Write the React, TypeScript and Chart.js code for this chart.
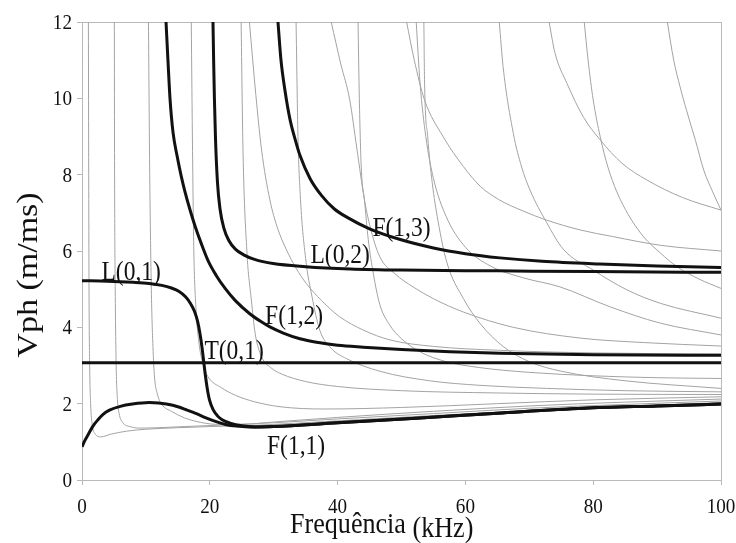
import { useEffect, useRef } from "react";
import { Chart, registerables } from "chart.js";

Chart.register(...registerables);

type Pt = [number, number];

// Axis ticks
const xTicks = [0, 20, 40, 60, 80, 100];
const yTicks = [0, 2, 4, 6, 8, 10, 12];

// Main guided-wave modes (frequency kHz, phase velocity m/ms)
const modeT01: Pt[] = [[0, 3.07], [100, 3.07]];

const modeL01: Pt[] = [
  [0, 5.22], [4, 5.21], [8, 5.18], [10.5, 5.15], [12.5, 5.1], [14, 5.03], [15.2, 4.94],
  [16.2, 4.8], [17, 4.62], [17.6, 4.42], [18.1, 4.15], [18.5, 3.8], [18.8, 3.45],
  [19.05, 3.1], [19.3, 2.75], [19.6, 2.4], [19.95, 2.1], [20.5, 1.85], [21.2, 1.68],
  [22, 1.57], [23.3, 1.48], [25, 1.42], [27, 1.39], [30, 1.4], [40, 1.5], [52.3, 1.62],
  [65, 1.75], [78.5, 1.88], [90, 1.94], [100, 1.99],
];

const modeF11: Pt[] = [
  [0, 0.87], [0.5, 1.05], [1, 1.2], [1.66, 1.4], [2.5, 1.58], [3.3, 1.72], [4.3, 1.83],
  [6, 1.93], [7.9, 1.99], [10.5, 2.03], [12, 2.02], [13.2, 1.99], [15, 1.92], [16.3, 1.84],
  [18, 1.73], [19.4, 1.63], [21, 1.53], [22.6, 1.45], [24.5, 1.41], [26.2, 1.39],
  [28, 1.39], [30, 1.4], [40, 1.5], [52.3, 1.62], [65, 1.75], [78.5, 1.88], [90, 1.94],
  [100, 1.99],
];

const modeF12: Pt[] = [
  [13.15, 12], [13.45, 11], [13.77, 10.0], [14.25, 9.1], [14.87, 8.5], [15.5, 7.98],
  [16.12, 7.55], [16.9, 7.08], [17.7, 6.65], [18.7, 6.18], [19.8, 5.72], [21, 5.36],
  [22.4, 5.02], [24, 4.7], [26.3, 4.35], [28, 4.15], [29.4, 4.01], [31.5, 3.85],
  [34.1, 3.7], [37, 3.6], [40, 3.53], [44, 3.48], [50, 3.42], [57.6, 3.36], [65.4, 3.32],
  [80, 3.28], [100, 3.27],
];

const modeL02: Pt[] = [
  [20.5, 12], [20.6, 11], [20.72, 10], [20.9, 8.9], [21.2, 7.8], [21.6, 7.1], [22.2, 6.6],
  [23, 6.27], [24, 6.05], [25.3, 5.9], [27, 5.78], [29.9, 5.67], [35, 5.59], [42, 5.53],
  [50, 5.5], [65, 5.48], [80, 5.46], [100, 5.44],
];

const modeF13: Pt[] = [
  [30.67, 12], [31.14, 11], [31.77, 10.2], [32.55, 9.45], [33.4, 8.9], [34.12, 8.5],
  [35.68, 7.9], [37.5, 7.45], [39.5, 7.1], [41.5, 6.88], [45, 6.58], [49.8, 6.3],
  [55, 6.08], [60, 5.93], [65.4, 5.82], [72, 5.73], [81, 5.66], [90, 5.61], [100, 5.57],
];

// Higher-order modes (thin grey curves)
const hm1: Pt[] = [[1.0, 12], [1.05, 8], [1.1, 5], [1.2, 3], [1.35, 2], [1.6, 1.45], [2.0, 1.22], [3.0, 1.13], [4.5, 1.2], [7, 1.28], [10, 1.33], [15, 1.37], [20, 1.4], [28, 1.44], [40, 1.55], [55, 1.69], [70, 1.82], [85, 1.93], [100, 2.03]];
const hm2: Pt[] = [[5.06, 12], [5.1, 8], [5.2, 5], [5.35, 3], [5.55, 2.1], [5.8, 1.75], [6.4, 1.5], [7.5, 1.4], [9, 1.36], [12, 1.37], [16, 1.4], [22, 1.44], [30, 1.5], [40, 1.6], [55, 1.74], [70, 1.88], [85, 1.98], [100, 2.07]];
const hm3: Pt[] = [[10.4, 12], [10.6, 8], [10.85, 5], [11.1, 3.5], [11.35, 2.7], [11.8, 2.25], [12.5, 1.98], [14, 1.8], [16, 1.63], [18, 1.53], [21, 1.46], [25, 1.46], [30, 1.52], [40, 1.64], [55, 1.8], [70, 1.94], [85, 2.04], [100, 2.12]];
const hm4: Pt[] = [[17.1, 12], [17.3, 8.6], [17.5, 6], [17.8, 4.6], [18.3, 3.6], [19.0, 3.0], [19.7, 2.71], [21.8, 2.42], [24, 2.22], [27, 2.05], [31, 1.92], [38, 1.86], [50, 1.9], [65, 2.0], [80, 2.1], [100, 2.18]];
const hm5: Pt[] = [[24.9, 12], [25.2, 8.6], [25.8, 6], [26.5, 4.72], [27.1, 3.84], [28.1, 3.23], [29.5, 2.95], [31.2, 2.78], [35, 2.58], [40, 2.45], [50, 2.34], [65, 2.28], [80, 2.25], [100, 2.24]];
const hm6: Pt[] = [[26.2, 12], [27.2, 10.1], [28.1, 8.65], [29.4, 7.34], [30.6, 6.6], [32, 6.03], [33.5, 5.55], [35.1, 5.15], [37.5, 4.7], [40.3, 4.28], [44, 3.93], [48.2, 3.67], [55, 3.5], [65, 3.4], [80, 3.33], [100, 3.3]];
const hm7: Pt[] = [[33.5, 12], [33.8, 9], [34.2, 7.34], [35, 5.8], [36, 4.8], [37.2, 3.93], [39, 3.45], [41.4, 3.18], [46.6, 2.85], [54.4, 2.6], [62.3, 2.48], [72.7, 2.4], [85, 2.34], [100, 2.31]];
const hm8: Pt[] = [[39, 12], [40.5, 10.9], [41.9, 9.96], [43, 8.7], [44.2, 7.34], [45.3, 6.5], [46.6, 5.85], [49, 5.4], [51.8, 5.06], [55, 4.75], [59.7, 4.4], [67.5, 4.0], [77.9, 3.72], [88, 3.6], [100, 3.51]];
const hm9: Pt[] = [[43.2, 12], [43.4, 10], [43.7, 8.2], [44.2, 7.34], [44.8, 6.3], [45.6, 5.4], [46.6, 4.6], [48, 4.1], [50, 3.7], [53, 3.35], [57, 3.1], [62, 2.95], [70, 2.82], [80, 2.73], [90, 2.68], [100, 2.66]];
const hm10: Pt[] = [[50.8, 12], [52, 11], [53.6, 9.96], [56.5, 9.0], [59.7, 8.21], [62.3, 7.7], [65.2, 7.35], [69, 7.05], [72.7, 6.81], [78, 6.55], [83, 6.38], [90.5, 6.15], [100, 6.0]];
const hm11: Pt[] = [[52.3, 12], [52.9, 10.4], [53.8, 9.0], [55, 7.9], [57, 6.9], [60, 6.1], [64, 5.6], [69, 5.3], [74.8, 5.06], [82.6, 4.54], [90.5, 4.11], [100, 3.8]];
const hm12: Pt[] = [[53.5, 12], [53.6, 10.5], [54.1, 9.0], [54.8, 7.8], [55.7, 6.8], [57.1, 5.7], [59.7, 4.75], [62.3, 4.1], [65.9, 3.5], [70, 3.1], [75, 2.85], [85, 2.6], [100, 2.4]];
const hm13: Pt[] = [[65.3, 12], [65.9, 10.83], [67.5, 9.08], [68.8, 8.2], [70.1, 7.6], [72.7, 6.75], [75.3, 6.05], [80, 5.5], [85.3, 4.98], [90.5, 4.63], [100, 4.24]];
const hm14: Pt[] = [[73.1, 12], [74, 11.2], [75.9, 10.39], [78.5, 9.5], [81.1, 8.91], [84.5, 8.3], [88.4, 7.86], [94, 7.4], [100, 7.07]];
const hm15: Pt[] = [[78.6, 12], [79.2, 11], [80, 9.96], [81.1, 8.99], [82.3, 8.2], [83.7, 7.55], [85.5, 6.95], [87.9, 6.37], [90.5, 5.95], [93.1, 5.59], [96.5, 5.27], [100, 5.02]];
const hm16: Pt[] = [[91.6, 12], [92.6, 11], [93.6, 10.3], [94.6, 9.69], [96, 8.9], [97.3, 8.12], [98.7, 7.55], [100, 7.07]];

const mainModes: Pt[][] = [modeT01, modeL01, modeF11, modeF12, modeL02, modeF13];
const higherModes: Pt[][] = [hm1, hm2, hm3, hm4, hm5, hm6, hm7, hm8, hm9, hm10, hm11, hm12, hm13, hm14, hm15, hm16];

// Mode names and where they are written (kHz, m/ms)
const modeNames = ["L(0,1)", "F(1,3)", "L(0,2)", "F(1,2)", "T(0,1)", "F(1,1)"];
const modeNameAt: Pt[] = [[7.7, 5.42], [50.0, 6.58], [40.4, 5.87], [33.2, 4.27], [23.8, 3.35], [33.5, 0.86]];

const xTitle = "Frequência";
const xUnit = "(kHz)";
const yTitle = "Vph (m/ms)";

const SERIF = '"Liberation Serif", "Times New Roman", serif';
const SQUEEZE = 0.87;
const FRAME = "#b9b9b9";

const toXY = (pts: Pt[]) => pts.map(([x, y]) => ({ x, y }));

function squeezedText(
  ctx: CanvasRenderingContext2D,
  text: string,
  x: number,
  y: number,
  align: CanvasTextAlign,
  baseline: CanvasTextBaseline,
  size: number
) {
  ctx.save();
  ctx.translate(x, y);
  ctx.scale(SQUEEZE, 1);
  ctx.font = `${size}px ${SERIF}`;
  ctx.textAlign = align;
  ctx.textBaseline = baseline;
  ctx.fillStyle = "#111";
  ctx.fillText(text, 0, 0);
  ctx.restore();
}

const decorations = {
  id: "decorations",
  beforeDatasetsDraw(chart: any) {
    const { ctx, chartArea } = chart;
    ctx.save();
    ctx.strokeStyle = FRAME;
    ctx.lineWidth = 1;
    ctx.strokeRect(
      Math.round(chartArea.left) + 0.5,
      Math.round(chartArea.top) + 0.5,
      Math.round(chartArea.right - chartArea.left),
      Math.round(chartArea.bottom - chartArea.top)
    );
    ctx.restore();
  },
  afterDraw(chart: any) {
    const { ctx, chartArea, scales } = chart;
    const xs = scales.x;
    const ys = scales.y;

    xs.ticks.forEach((t: any) => {
      squeezedText(ctx, String(t.value), xs.getPixelForValue(t.value), chartArea.bottom + 33, "center", "alphabetic", 22);
    });
    ys.ticks.forEach((t: any) => {
      squeezedText(ctx, String(t.value), chartArea.left - 10, ys.getPixelForValue(t.value) + 7, "right", "alphabetic", 22);
    });

    modeNames.forEach((name, i) => {
      const [fx, fy] = modeNameAt[i];
      squeezedText(ctx, name, xs.getPixelForValue(fx), ys.getPixelForValue(fy), "center", "middle", 27);
    });

    // x axis title
    ctx.save();
    ctx.font = `30px ${SERIF}`;
    const w1 = ctx.measureText(xTitle + " ").width * SQUEEZE;
    ctx.restore();
    squeezedText(ctx, xTitle, 290, 533, "left", "alphabetic", 30);
    squeezedText(ctx, xUnit, 290 + w1, 537, "left", "alphabetic", 30);

    // y axis title
    ctx.save();
    ctx.translate(29, 275);
    ctx.rotate(-Math.PI / 2);
    ctx.scale(1, SQUEEZE);
    ctx.font = `34px ${SERIF}`;
    ctx.textAlign = "center";
    ctx.textBaseline = "middle";
    ctx.fillStyle = "#111";
    ctx.fillText(yTitle, 0, 0);
    ctx.restore();
  },
};

export default function App() {
  const canvasRef = useRef<HTMLCanvasElement | null>(null);

  useEffect(() => {
    const canvas = canvasRef.current;
    if (!canvas) return;

    const thick = mainModes.map((pts) => ({
      data: toXY(pts),
      borderColor: "#111111",
      borderWidth: 3,
      pointRadius: 0,
      cubicInterpolationMode: "monotone" as const,
      fill: false,
    }));
    const thin = higherModes.map((pts) => ({
      data: toXY(pts),
      borderColor: "#a3a3a3",
      borderWidth: 1,
      pointRadius: 0,
      cubicInterpolationMode: "monotone" as const,
      fill: false,
    }));

    const chart = new Chart(canvas, {
      type: "line",
      data: { datasets: [...thick, ...thin] as any },
      options: {
        responsive: false,
        animation: false,
        parsing: false,
        layout: { padding: { left: 0, top: 22, right: 15, bottom: 0 } },
        plugins: { legend: { display: false }, tooltip: { enabled: false } },
        scales: {
          x: {
            type: "linear",
            min: 0,
            max: 100,
            afterBuildTicks: (s: any) => {
              s.ticks = xTicks.map((v) => ({ value: v }));
            },
            ticks: { display: false },
            grid: { drawOnChartArea: false, drawTicks: true, tickLength: 5, color: FRAME },
            border: { display: false },
            afterFit: (s: any) => {
              s.height = 63;
            },
          },
          y: {
            type: "linear",
            min: 0,
            max: 12,
            afterBuildTicks: (s: any) => {
              s.ticks = yTicks.map((v) => ({ value: v }));
            },
            ticks: { display: false },
            grid: { drawOnChartArea: false, drawTicks: true, tickLength: 5, color: FRAME },
            border: { display: false },
            afterFit: (s: any) => {
              s.width = 82;
            },
          },
        },
      },
      plugins: [decorations],
    });

    return () => chart.destroy();
  }, []);

  return (
    <div style={{ position: "absolute", left: 0, top: 0, width: 736, height: 543, background: "#fff" }}>
      <canvas ref={canvasRef} width={736} height={543} style={{ width: 736, height: 543, display: "block" }} />
    </div>
  );
}
